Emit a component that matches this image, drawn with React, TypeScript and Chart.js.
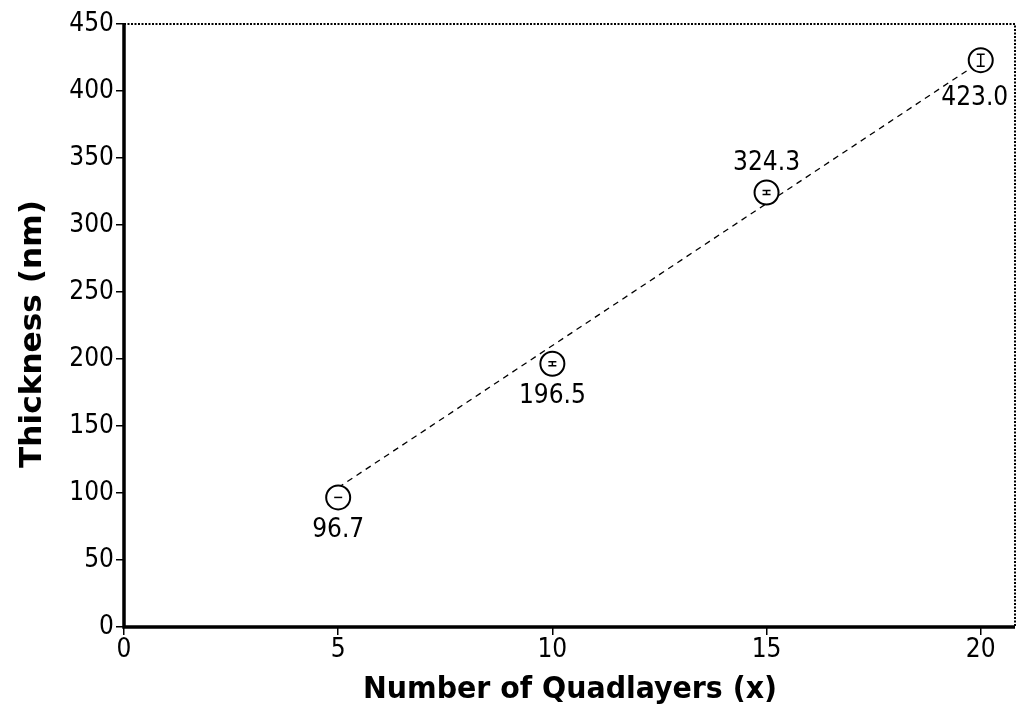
import React, { useEffect, useRef } from "react";
import { Chart, registerables } from "chart.js";

Chart.register(...registerables);

const layersX = [5, 10, 15, 20];
const thicknessY = [96.7, 196.5, 324.3, 423.0];
const thicknessErr = [0, 1.5, 1.5, 4.5];
const pointLabels = ["96.7", "196.5", "324.3", "423.0"];
const labelAbove = [false, false, true, false];
const fitX = [5, 20];
const fitY = [104, 422];
const xTicks = [0, 5, 10, 15, 20];
const xTitle = "Number of Quadlayers (x)";
const yTitle = "Thickness (nm)";

const FONT = "'Liberation Sans Narrow', 'DejaVu Sans Condensed', 'Liberation Sans', sans-serif";

const framePlugin = {
  id: "frame",
  afterDatasetsDraw(chart: any) {
    const { ctx, chartArea } = chart;
    const { left, right, top, bottom } = chartArea;
    ctx.save();
    ctx.strokeStyle = "#000";
    ctx.lineWidth = 2;
    ctx.setLineDash([2, 1.5]);
    ctx.beginPath();
    ctx.moveTo(left, top);
    ctx.lineTo(right, top);
    ctx.lineTo(right, bottom);
    ctx.stroke();
    ctx.setLineDash([]);
    ctx.lineWidth = 3.5;
    ctx.beginPath();
    ctx.moveTo(left, top);
    ctx.lineTo(left, bottom);
    ctx.lineTo(right, bottom);
    ctx.stroke();
    ctx.restore();
  },
};

function drawFittedText(ctx: any, text: string, cx: number, cy: number, target: number, rot: number) {
  ctx.save();
  ctx.font = `bold 31px ${FONT}`;
  const w = ctx.measureText(text).width;
  ctx.translate(cx, cy);
  ctx.rotate(rot);
  ctx.scale(target / w, 1);
  ctx.textAlign = "center";
  ctx.textBaseline = "middle";
  ctx.fillStyle = "#000";
  ctx.fillText(text, 0, 0);
  ctx.restore();
}

const titlePlugin = {
  id: "titles",
  afterDraw(chart: any) {
    const { ctx } = chart;
    drawFittedText(ctx, xTitle, 570, 690, 414, 0);
    drawFittedText(ctx, yTitle, 33, 334, 268, -Math.PI / 2);
  },
};

const errPlugin = {
  id: "errbars",
  afterDatasetsDraw(chart: any) {
    const { ctx, scales } = chart;
    const xs = scales.x;
    const ys = scales.y;
    ctx.save();
    ctx.strokeStyle = "#000";
    ctx.fillStyle = "#000";
    ctx.lineWidth = 1.5;
    layersX.forEach((xv, i) => {
      const px = xs.getPixelForValue(xv);
      const py = ys.getPixelForValue(thicknessY[i]);
      const e = thicknessErr[i];
      const p1 = ys.getPixelForValue(thicknessY[i] + e);
      const p2 = ys.getPixelForValue(thicknessY[i] - e);
      ctx.beginPath();
      if (e === 0) {
        ctx.moveTo(px - 4, py);
        ctx.lineTo(px + 4, py);
      } else {
        ctx.moveTo(px, p1);
        ctx.lineTo(px, p2);
        ctx.moveTo(px - 4, p1);
        ctx.lineTo(px + 4, p1);
        ctx.moveTo(px - 4, p2);
        ctx.lineTo(px + 4, p2);
      }
      ctx.stroke();
      ctx.font = `26px ${FONT}`;
      ctx.textAlign = "center";
      ctx.textBaseline = "middle";
      const last = i === layersX.length - 1;
      const off = labelAbove[i] ? -29 : last ? 38 : 33;
      ctx.fillText(pointLabels[i], px - (last ? 6 : 0), py + off);
    });
    ctx.restore();
  },
};

export default function App() {
  const ref = useRef<HTMLCanvasElement | null>(null);
  useEffect(() => {
    if (!ref.current) return;
    const chart = new Chart(ref.current, {
      type: "scatter",
      data: {
        datasets: [
          {
            label: "fit",
            data: fitX.map((x, i) => ({ x, y: fitY[i] })),
            showLine: true,
            borderColor: "#000",
            borderWidth: 1.3,
            borderDash: [6, 5],
            pointRadius: 0,
            order: 2,
          },
          {
            label: "data",
            data: layersX.map((x, i) => ({ x, y: thicknessY[i] })),
            pointRadius: 12,
            pointBackgroundColor: "#fff",
            pointBorderColor: "#000",
            pointBorderWidth: 2,
            order: 1,
          },
        ],
      },
      options: {
        animation: false,
        responsive: false,
        maintainAspectRatio: false,
        layout: { padding: { top: 24, right: 3, left: 0, bottom: 0 } },
        plugins: { legend: { display: false }, tooltip: { enabled: false } },
        scales: {
          x: {
            type: "linear",
            min: 0,
            max: 20.8,
            afterBuildTicks(axis: any) {
              axis.ticks = xTicks.map((v) => ({ value: v }));
            },
            afterFit(axis: any) {
              axis.height = 88;
            },
            grid: { drawOnChartArea: false, drawTicks: true, tickLength: 8, color: "#000", lineWidth: 1.5 },
            border: { display: false },
            ticks: { color: "#000", font: { family: FONT, size: 26 }, padding: 0, maxRotation: 0 },
            title: { display: false },
          },
          y: {
            type: "linear",
            min: 0,
            max: 450,
            ticks: { stepSize: 50, color: "#000", font: { family: FONT, size: 26 }, padding: 2 },
            afterFit(axis: any) {
              axis.width = 124;
            },
            grid: { drawOnChartArea: false, drawTicks: true, tickLength: 8, color: "#000", lineWidth: 1.5 },
            border: { display: false },
            title: { display: false },
          },
        },
      },
      plugins: [framePlugin, errPlugin, titlePlugin],
    });
    return () => chart.destroy();
  }, []);
  return (
    <div style={{ position: "absolute", left: 0, top: 0, width: 1018, height: 715, background: "#fff", overflow: "hidden" }}>
      <canvas ref={ref} width={1029} height={715} style={{ width: 1029, height: 715 }} />
    </div>
  );
}
